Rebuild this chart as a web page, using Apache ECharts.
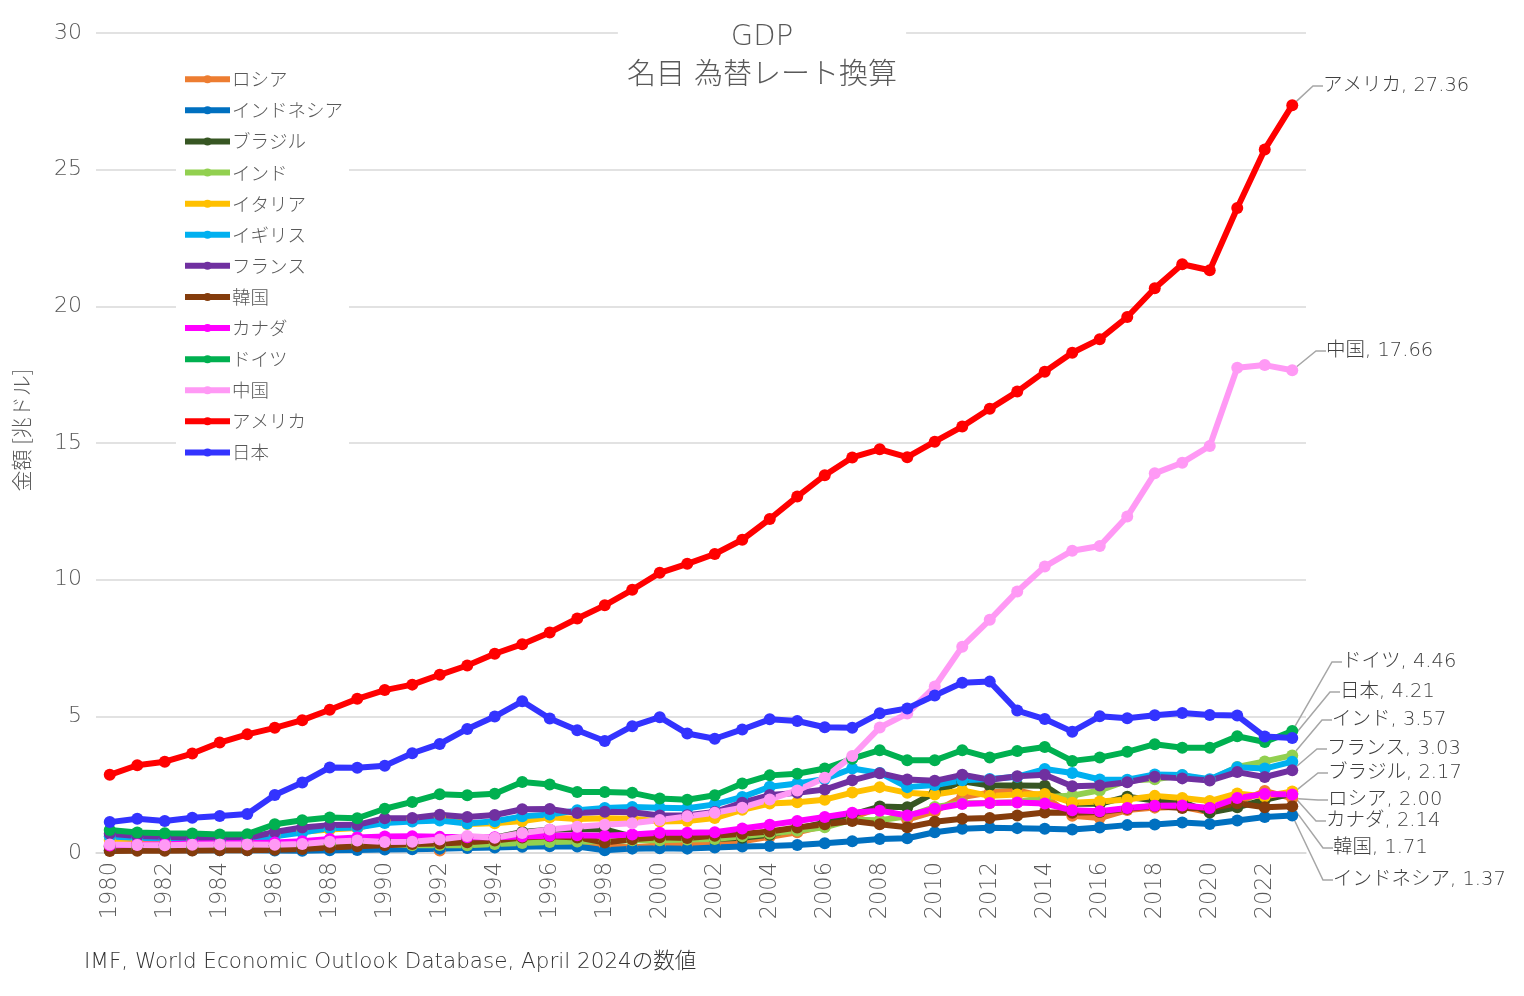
<!DOCTYPE html>
<html>
<head>
<meta charset="utf-8">
<script src="https://cdn.jsdelivr.net/npm/echarts@6/dist/echarts.min.js"></script>
<style>
html,body{margin:0;padding:0;background:#fff;}
#chart{width:1524px;height:996px;}
</style>
</head>
<body>
<div id="chart"></div>
<script>
// ---------- DATA ----------
const years = ['1980','1981','1982','1983','1984','1985','1986','1987','1988','1989',
  '1990','1991','1992','1993','1994','1995','1996','1997','1998','1999',
  '2000','2001','2002','2003','2004','2005','2006','2007','2008','2009',
  '2010','2011','2012','2013','2014','2015','2016','2017','2018','2019',
  '2020','2021','2022','2023'];

const yTicks = [0, 5, 10, 15, 20, 25, 30];

const russia = [null,null,null,null,null,null,null,null,null,null,
  null,null,0.09,0.44,0.40,0.40,0.39,0.40,0.27,0.20,
  0.28,0.31,0.35,0.43,0.59,0.76,0.99,1.30,1.66,1.22,
  1.52,2.05,2.21,2.29,2.06,1.36,1.28,1.57,1.66,1.69,
  1.49,1.84,2.27,2.00];
const indonesia = [0.10,0.11,0.11,0.10,0.10,0.10,0.09,0.08,0.10,0.11,
  0.13,0.14,0.16,0.18,0.20,0.23,0.25,0.24,0.10,0.16,
  0.17,0.16,0.20,0.24,0.26,0.29,0.36,0.43,0.51,0.54,
  0.76,0.89,0.92,0.91,0.89,0.86,0.93,1.02,1.04,1.12,
  1.06,1.19,1.32,1.37];
const brazil = [0.24,0.27,0.28,0.20,0.21,0.23,0.27,0.29,0.33,0.45,
  0.47,0.41,0.40,0.44,0.56,0.77,0.85,0.88,0.86,0.60,
  0.66,0.56,0.51,0.56,0.67,0.89,1.11,1.40,1.70,1.67,
  2.21,2.62,2.47,2.47,2.46,1.80,1.80,2.06,1.92,1.87,
  1.48,1.67,1.95,2.17];
const india = [0.19,0.20,0.21,0.22,0.22,0.24,0.26,0.28,0.30,0.30,
  0.33,0.28,0.29,0.28,0.33,0.37,0.40,0.42,0.43,0.47,
  0.47,0.49,0.51,0.61,0.71,0.82,0.94,1.22,1.20,1.34,
  1.68,1.82,1.83,1.86,2.04,2.10,2.29,2.65,2.70,2.84,
  2.67,3.15,3.35,3.57];
const italy = [0.48,0.43,0.43,0.44,0.44,0.45,0.63,0.78,0.86,0.91,
  1.18,1.24,1.32,1.06,1.09,1.17,1.31,1.24,1.27,1.25,
  1.15,1.17,1.28,1.58,1.81,1.86,1.95,2.21,2.41,2.20,
  2.14,2.29,2.09,2.14,2.16,1.84,1.88,1.96,2.09,2.01,
  1.90,2.18,2.07,2.25];
const uk = [0.60,0.56,0.53,0.50,0.47,0.50,0.61,0.75,0.91,0.93,
  1.10,1.15,1.19,1.08,1.16,1.34,1.41,1.56,1.65,1.68,
  1.66,1.64,1.78,2.05,2.42,2.54,2.71,3.09,2.93,2.41,
  2.49,2.66,2.71,2.79,3.07,2.93,2.69,2.68,2.87,2.85,
  2.70,3.14,3.09,3.34];
const france = [0.70,0.62,0.59,0.56,0.53,0.55,0.77,0.93,1.02,1.03,
  1.27,1.28,1.40,1.32,1.39,1.60,1.61,1.46,1.51,1.49,
  1.37,1.38,1.50,1.84,2.12,2.20,2.32,2.66,2.92,2.69,
  2.64,2.86,2.68,2.81,2.86,2.44,2.47,2.59,2.79,2.73,
  2.65,2.96,2.78,3.03];
const korea = [0.07,0.08,0.08,0.09,0.10,0.10,0.12,0.15,0.20,0.25,
  0.28,0.33,0.35,0.39,0.46,0.57,0.61,0.57,0.38,0.50,
  0.58,0.55,0.63,0.70,0.79,0.93,1.05,1.17,1.05,0.94,
  1.14,1.25,1.28,1.37,1.48,1.47,1.50,1.62,1.72,1.65,
  1.64,1.82,1.67,1.71];
const canada = [0.27,0.31,0.32,0.35,0.36,0.37,0.38,0.43,0.51,0.57,
  0.60,0.61,0.59,0.58,0.58,0.60,0.63,0.65,0.63,0.68,
  0.74,0.74,0.76,0.90,1.03,1.17,1.32,1.47,1.55,1.37,
  1.62,1.79,1.83,1.85,1.81,1.56,1.53,1.65,1.73,1.74,
  1.65,2.01,2.16,2.14];
const germany = [0.84,0.75,0.72,0.71,0.68,0.69,1.05,1.20,1.30,1.27,
  1.62,1.87,2.15,2.11,2.17,2.60,2.51,2.23,2.23,2.20,
  1.99,1.95,2.11,2.54,2.84,2.90,3.09,3.45,3.76,3.39,
  3.39,3.76,3.49,3.73,3.88,3.37,3.49,3.70,3.98,3.85,
  3.85,4.27,4.06,4.46];
const china = [0.31,0.29,0.28,0.30,0.31,0.31,0.30,0.33,0.41,0.46,
  0.40,0.41,0.49,0.62,0.56,0.73,0.86,0.96,1.03,1.09,
  1.21,1.34,1.47,1.66,1.96,2.29,2.75,3.55,4.59,5.10,
  6.09,7.55,8.53,9.57,10.48,11.06,11.23,12.31,13.89,14.28,
  14.89,17.75,17.85,17.66];
const usa = [2.86,3.21,3.34,3.64,4.04,4.34,4.58,4.86,5.24,5.64,
  5.96,6.16,6.52,6.86,7.29,7.64,8.07,8.58,9.06,9.63,
  10.25,10.58,10.94,11.46,12.22,13.04,13.82,14.47,14.77,14.48,
  15.05,15.60,16.25,16.88,17.61,18.30,18.80,19.61,20.66,21.54,
  21.32,23.60,25.74,27.36];
const japan = [1.13,1.25,1.17,1.29,1.35,1.43,2.12,2.58,3.13,3.12,
  3.19,3.65,3.99,4.54,4.99,5.55,4.92,4.49,4.10,4.64,
  4.97,4.37,4.18,4.52,4.89,4.83,4.60,4.58,5.11,5.29,
  5.76,6.23,6.27,5.21,4.90,4.44,5.00,4.93,5.04,5.12,
  5.05,5.03,4.26,4.21];

const seriesNames = ['ロシア','インドネシア','ブラジル','インド','イタリア','イギリス','フランス','韓国','カナダ','ドイツ','中国','アメリカ','日本'];
const seriesValues = [russia, indonesia, brazil, india, italy, uk, france, korea, canada, germany, china, usa, japan];
const labelledSeries = ['アメリカ','中国','ドイツ','日本','インド','フランス','ブラジル','ロシア','カナダ','韓国','インドネシア'];

const titleText = 'GDP';
const subtitleText = '名目 為替レート換算';
const yAxisName = '金額 [兆ドル]';
const sourceText = 'IMF, World Economic Outlook Database, April 2024の数値';

// ---------- STYLE / LAYOUT ----------
const colors = {
  'ロシア':'#ED7D31','インドネシア':'#0070C0','ブラジル':'#375623','インド':'#92D050',
  'イタリア':'#FFC000','イギリス':'#00B0F0','フランス':'#7030A0','韓国':'#843C0C',
  'カナダ':'#FF00FF','ドイツ':'#00B050','中国':'#FF99F5','アメリカ':'#FF0000','日本':'#3333FF'
};
// callout label placement (pixel positions of end labels)
const labelPos = {
  'アメリカ':[1323,86],'中国':[1326,351],'ドイツ':[1342,662],'日本':[1340,692],
  'インド':[1332,720],'フランス':[1327,749],'ブラジル':[1328,773],'ロシア':[1328,800],
  'カナダ':[1326,821],'韓国':[1333,848],'インドネシア':[1333,880]
};
const FONT = "'DejaVu Sans','Noto Sans CJK JP',sans-serif";
const JFONT = "'Noto Sans CJK JP','Noto Sans',sans-serif";
const GRAY = '#595959';
const LIGHT = 300;

const lastIdx = years.length - 1;

const series = seriesNames.map(function (name, si) {
  const vals = seriesValues[si];
  const hasLabel = labelledSeries.indexOf(name) >= 0;
  const data = vals.map(function (v, i) {
    if (i === lastIdx && hasLabel) {
      return { value: v, label: { show: true }, labelLine: { show: true } };
    }
    return v;
  });
  return {
    name: name,
    type: 'line',
    data: data,
    symbol: 'circle',
    symbolSize: 12,
    showSymbol: true,
    showAllSymbol: true,
    connectNulls: false,
    color: colors[name],
    lineStyle: { width: 6, color: colors[name] },
    itemStyle: { color: colors[name] },
    emphasis: { disabled: true },
    label: {
      show: false,
      fontFamily: FONT,
      fontWeight: LIGHT,
      fontSize: 19.5,
      color: '#404040',
      formatter: function (p) { return name + ', ' + Number(p.value).toFixed(2); }
    },
    labelLine: {
      show: false,
      length2: 10,
      smooth: false,
      lineStyle: { color: '#A6A6A6', width: 1.5 }
    },
    labelLayout: function (params) {
      const pos = labelPos[name];
      if (!pos || params.dataIndex !== lastIdx) return;
      return { x: pos[0], y: pos[1], align: 'left', verticalAlign: 'middle' };
    }
  };
});

const chart = echarts.init(document.getElementById('chart'), null, { renderer: 'canvas' });
chart.setOption({
  animation: false,
  backgroundColor: '#ffffff',
  title: [
    {
      text: titleText + '\n' + subtitleText,
      left: 'center',
      top: 18,
      padding: [0, 9],
      backgroundColor: '#ffffff',
      textStyle: { fontFamily: FONT, fontSize: 29, fontWeight: LIGHT, color: GRAY, lineHeight: 39, align: 'center' }
    },
    {
      text: sourceText,
      left: 84,
      top: 952,
      padding: 0,
      textStyle: { fontFamily: FONT, fontSize: 21.5, fontWeight: LIGHT, color: '#333333' }
    }
  ],
  legend: {
    orient: 'vertical',
    left: 176,
    top: 66,
    padding: [4, 6, 4, 6],
    backgroundColor: '#ffffff',
    itemWidth: 45,
    itemHeight: 10,
    itemGap: 12.6,
    data: seriesNames,
    lineStyle: { width: 6 },
    textStyle: { fontFamily: JFONT, fontSize: 18.5, fontWeight: LIGHT, color: GRAY, padding: [0, 0, 0, -3] }
  },
  grid: { left: 96, right: 218, top: 33, bottom: 143, containLabel: false },
  xAxis: {
    type: 'category',
    data: years,
    boundaryGap: true,
    axisLine: { show: true, lineStyle: { color: '#D9D9D9', width: 1.5 } },
    axisTick: { show: false },
    axisLabel: { interval: 1, rotate: 90, margin: 9, fontFamily: FONT, fontWeight: LIGHT, fontSize: 22.5, color: GRAY },
    splitLine: { show: false }
  },
  yAxis: {
    type: 'value',
    min: yTicks[0],
    max: yTicks[yTicks.length - 1],
    interval: 5,
    name: yAxisName,
    nameLocation: 'middle',
    nameGap: 64,
    nameRotate: 90,
    nameTextStyle: { fontFamily: JFONT, fontSize: 21, fontWeight: LIGHT, color: GRAY, padding: [0, 0, 0, 26] },
    axisLine: { show: false },
    axisTick: { show: false },
    axisLabel: { margin: 14, fontFamily: FONT, fontWeight: LIGHT, fontSize: 22, color: GRAY },
    splitLine: { show: true, lineStyle: { color: '#D9D9D9', width: 1.5 } }
  },
  series: series
});
</script>
</body>
</html>
